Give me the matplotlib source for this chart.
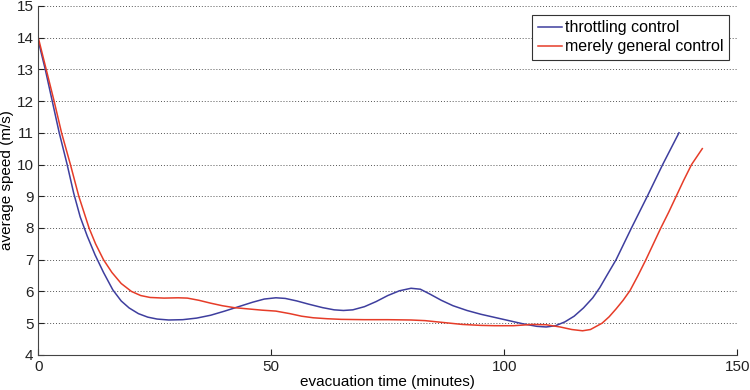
import matplotlib
matplotlib.use('Agg')
import matplotlib.pyplot as plt

plt.rcParams['font.family'] = ['Liberation Sans', 'DejaVu Sans']

# throttling control
t_throttle = [0, 1.5, 3.0, 4.5, 6.2, 7.6, 9.0, 10.5, 12.2, 14, 16, 17.8, 19.5, 21.5,
              23.5, 25.5, 28, 31, 34, 37, 40, 43, 46, 48.5, 51, 53, 55.5, 58, 61,
              63.5, 65.5, 67.5, 70, 72.5, 75, 77.5, 80, 82, 84, 86.5, 89, 92, 95,
              98, 101, 104, 107, 109, 111, 113, 115, 117, 119, 120.5, 122, 124,
              127.3, 130.7, 134, 137.5]
v_throttle = [13.9, 13.0, 12.0, 11.0, 10.0, 9.1, 8.35, 7.75, 7.15, 6.6, 6.05, 5.7, 5.48, 5.3,
              5.19, 5.13, 5.1, 5.11, 5.16, 5.25, 5.38, 5.52, 5.66, 5.76, 5.8, 5.78, 5.7, 5.6, 5.49,
              5.42, 5.4, 5.42, 5.52, 5.68, 5.87, 6.02, 6.1, 6.07, 5.92, 5.72, 5.55, 5.4, 5.28,
              5.18, 5.08, 4.98, 4.9, 4.88, 4.92, 5.04, 5.22, 5.48, 5.8, 6.12, 6.5, 7.0,
              8.0, 9.0, 10.0, 11.0]

# merely general control
t_general = [0, 1.7, 3.4, 5.0, 6.9, 8.7, 10.9, 12.3, 14, 15.8, 17.8, 20, 22, 24, 27,
             30, 32, 34.5, 37, 39.5, 42, 45, 48, 51, 54, 56.5, 59, 62, 65, 70, 75,
             80, 83, 87, 91, 95, 98, 102, 106, 109, 112, 114.5, 116.8, 118.5, 120,
             121, 122.5, 124, 125.5, 127, 128.7, 130.4, 132, 133.6, 135.3, 136.9,
             138.5, 140.2, 142.5]
v_general = [14.0, 13.0, 12.0, 11.0, 10.0, 9.0, 8.0, 7.5, 7.0, 6.6, 6.25, 6.0, 5.87, 5.81, 5.79,
             5.8, 5.79, 5.72, 5.63, 5.55, 5.49, 5.45, 5.41, 5.38, 5.3, 5.22, 5.17, 5.14, 5.12, 5.11, 5.11,
             5.1, 5.08, 5.02, 4.96, 4.93, 4.92, 4.92, 4.96, 4.95, 4.88, 4.8, 4.76, 4.8, 4.92,
             5.0, 5.2, 5.45, 5.72, 6.03, 6.5, 7.0, 7.5, 8.0, 8.5, 9.0,
             9.5, 10.0, 10.5]

fig = plt.figure(figsize=(7.5, 3.9), dpi=100)
ax = fig.add_axes([0.051, 0.09, 0.932, 0.895])

ax.plot(t_throttle, v_throttle, color='#3e3e9e', lw=1.1, label='throttling control')
ax.plot(t_general, v_general, color='#e63c28', lw=1.1, label='merely general control')

ax.set_xlim(0, 150)
ax.set_ylim(4, 15)
ax.set_xticks([0, 50, 100, 150])
ax.set_yticks(range(4, 16))
ax.tick_params(direction='in', length=4, labelsize=11, colors='#222222')
ax.yaxis.grid(True, linestyle=(0, (1, 2)), color='#555555', lw=0.7)
ax.set_axisbelow(True)
ax.spines['top'].set_visible(False)
ax.spines['right'].set_visible(False)
for s in ['left', 'bottom']:
    ax.spines[s].set_color('#444444')
    ax.spines[s].set_linewidth(0.8)

ax.set_xlabel('evacuation time (minutes)', fontsize=11, labelpad=1)
ax.set_ylabel('average speed (m/s)', fontsize=11, labelpad=2)

leg = ax.legend(loc='upper right', bbox_to_anchor=(0.9955, 0.988), fontsize=11.5,
                handlelength=1.5, handletextpad=0.2, borderpad=0.35, labelspacing=0.25,
                fancybox=False, framealpha=1, borderaxespad=0.3)
leg.get_frame().set_edgecolor('#333333')
leg.get_frame().set_linewidth(0.8)

fig.savefig('out.png', dpi=100)
